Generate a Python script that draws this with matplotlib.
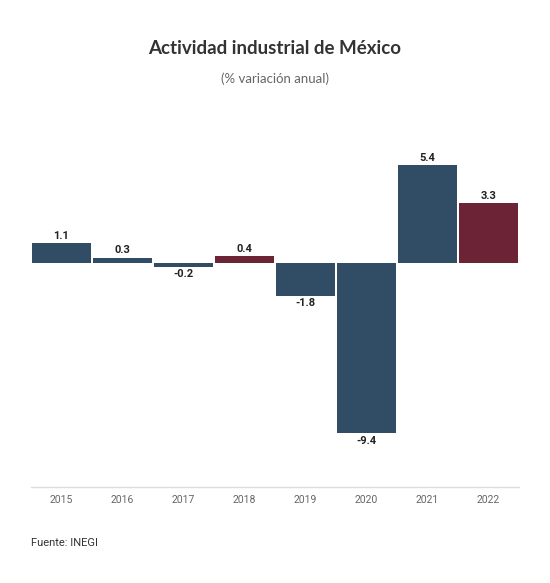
import matplotlib.pyplot as plt
import numpy as np

# Data
years = ['2015', '2016', '2017', '2018', '2019', '2020', '2021', '2022']
values = [1.1, 0.3, -0.2, 0.4, -1.8, -9.4, 5.4, 3.3]
highlight = ['2018', '2022']

BLUE = '#314d66'
RED = '#6b2335'

fig = plt.figure(figsize=(5.5, 5.83), dpi=100)
ax = fig.add_axes([31 / 550, 96 / 583, 488 / 550, 351 / 583])

x = np.arange(len(years))
colors = [RED if y in highlight else BLUE for y in years]
ax.bar(x, values, width=0.97, color=colors, zorder=2)

for xi, v in zip(x, values):
    if v >= 0:
        ax.text(xi, v + 0.12, f'{v:.1f}', ha='center', va='bottom',
                fontsize=8, fontweight='bold', color='#222222', family='Roboto')
    else:
        ax.text(xi, v - 0.15, f'{v:.1f}', ha='center', va='top',
                fontsize=8, fontweight='bold', color='#222222', family='Roboto')

ax.set_xlim(-0.5, len(years) - 0.5)
ax.set_ylim(-12.35, 7)
ax.set_xticks(x)
ax.set_xticklabels(years, fontsize=7.5, color='#666666', family='Roboto')
ax.tick_params(axis='x', length=0, pad=6)
ax.set_yticks([])
for side in ['top', 'right', 'left']:
    ax.spines[side].set_visible(False)
ax.spines['bottom'].set_color('#dddddd')
ax.spines['bottom'].set_linewidth(1)

fig.text(0.5, 1 - 48 / 583, 'Actividad industrial de México', ha='center', va='center',
         fontsize=13.5, fontweight='bold', color='#333333', family='Lato')
fig.text(0.5, 1 - 79 / 583, '(% variación anual)', ha='center', va='center',
         fontsize=9.5, color='#666666', family='Lato')
fig.text(31 / 550, 1 - 543 / 583, 'Fuente: INEGI', ha='left', va='center',
         fontsize=8, color='#333333', family='Roboto')

fig.savefig('out.png', dpi=100, facecolor='white')
